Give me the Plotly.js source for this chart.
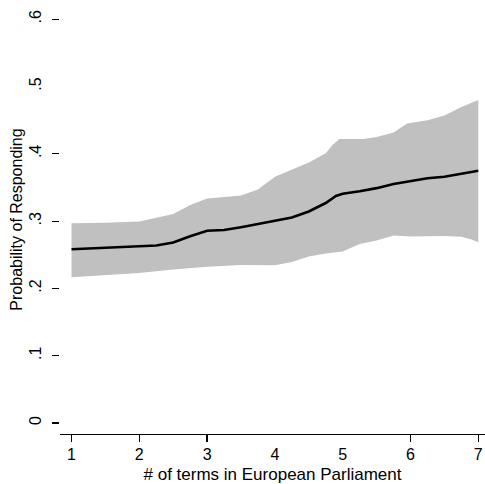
<!DOCTYPE html>
<html>
<head>
<meta charset="utf-8">
<script src="https://cdn.plot.ly/plotly-3.0.1.min.js"></script>
<style>html,body{margin:0;padding:0;background:#fff;}#chart{width:485px;height:484px;}</style>
</head>
<body>
<div id="chart"></div>
<script>
// Number of terms in European Parliament (x) and predicted probability
var upperX = [1, 1.5, 2, 2.5, 2.75, 3, 3.5, 3.75, 4, 4.25, 4.5, 4.75, 4.85, 4.95, 5.1, 5.3, 5.5, 5.75, 5.95, 6.25, 6.5, 6.75, 7];
var upperY = [0.297, 0.2976, 0.2994, 0.3105, 0.324, 0.3336, 0.338, 0.347, 0.366, 0.3767, 0.387, 0.401, 0.413, 0.422, 0.4224, 0.422, 0.425, 0.4317, 0.445, 0.450, 0.457, 0.4695, 0.480];

var lowerX = [1, 1.5, 2, 2.5, 3, 3.5, 4, 4.25, 4.5, 4.75, 5, 5.25, 5.5, 5.75, 6, 6.5, 6.75, 6.9, 7];
var lowerY = [0.2165, 0.2192, 0.2229, 0.2281, 0.2321, 0.2348, 0.2345, 0.2392, 0.2474, 0.2519, 0.2548, 0.266, 0.2712, 0.2786, 0.2771, 0.2779, 0.2768, 0.2727, 0.2685];

var lineX = [1, 1.5, 2, 2.25, 2.5, 2.75, 3, 3.25, 3.5, 3.75, 4, 4.25, 4.5, 4.75, 4.9, 5, 5.25, 5.5, 5.75, 6, 6.25, 6.5, 6.75, 7];
var lineY = [0.2581, 0.260, 0.2623, 0.2637, 0.2682, 0.2776, 0.2856, 0.2868, 0.291, 0.2957, 0.3004, 0.3053, 0.3143, 0.3269, 0.3373, 0.3406, 0.3443, 0.349, 0.3551, 0.3591, 0.3636, 0.3658, 0.370, 0.3749];

var xTickVals = [1, 2, 3, 4, 5, 6, 7];
var xTickText = ["1", "2", "3", "4", "5", "6", "7"];
var xTickMarkVals = [1, 2, 3, 6, 7];
var yTickVals = [0, 0.1, 0.2, 0.3, 0.4, 0.5, 0.6];
var yTickText = ["0", ".1", ".2", ".3", ".4", ".5", ".6"];
var yTickMarkVals = [0, 0.1, 0.2, 0.3, 0.4, 0.6];

var font = "Liberation Sans, Arial, sans-serif";
var bandColor = "#c0c0c0";

var traces = [
  {x: lowerX, y: lowerY, type: "scatter", mode: "lines", line: {width: 0, color: bandColor}, hoverinfo: "skip", showlegend: false},
  {x: upperX, y: upperY, type: "scatter", mode: "lines", fill: "tonexty", fillcolor: bandColor, line: {width: 0, color: bandColor}, showlegend: false},
  {x: lineX, y: lineY, type: "scatter", mode: "lines", line: {width: 2.6, color: "#000"}, showlegend: false},
  {x: [1], y: [0], xaxis: "x2", yaxis: "y2", type: "scatter", mode: "markers", marker: {opacity: 0}, hoverinfo: "skip", showlegend: false}
];

var xr = [0.830, 7.099];
var yr = [-0.0163, 0.6211];

var layout = {
  width: 485, height: 484,
  margin: {l: 60, r: 0, t: 5, b: 50},
  paper_bgcolor: "#fff", plot_bgcolor: "#fff",
  font: {family: font, color: "#000", size: 14},
  showlegend: false,
  xaxis: {
    range: xr, showgrid: false, zeroline: false,
    showline: true, linecolor: "#000", linewidth: 1.3,
    tickmode: "array", tickvals: xTickMarkVals, ticks: "outside", ticklen: 7, tickwidth: 1.3, tickcolor: "#000",
    showticklabels: false,
    title: {text: ""}
  },
  xaxis2: {
    overlaying: "x", range: xr, side: "bottom", showgrid: false, zeroline: false, showline: false,
    tickmode: "array", tickvals: xTickVals, ticktext: xTickText, ticks: "", ticklabelstandoff: 9,
    tickfont: {family: font, size: 16, color: "#000"},
    title: {text: "# of terms in European Parliament", font: {family: font, size: 17, color: "#000"}, standoff: 6}
  },
  yaxis: {
    range: yr, showgrid: false, zeroline: false, showline: false,
    tickmode: "array", tickvals: yTickMarkVals, ticks: "outside", ticklen: 7, tickwidth: 1.2, tickcolor: "#000",
    showticklabels: false,
    title: {text: ""}
  },
  yaxis2: {
    overlaying: "y", range: yr, side: "left", showgrid: false, zeroline: false, showline: false,
    tickmode: "array", tickvals: yTickVals, ticktext: yTickText, ticks: "", tickangle: -90, ticklabelstandoff: 15,
    tickfont: {family: font, size: 16, color: "#000"},
    title: {text: "Probability of Responding", font: {family: font, size: 16, color: "#000"}, standoff: 0}
  }
};

Plotly.newPlot("chart", traces, layout, {staticPlot: true, displayModeBar: false});
</script>
</body>
</html>
